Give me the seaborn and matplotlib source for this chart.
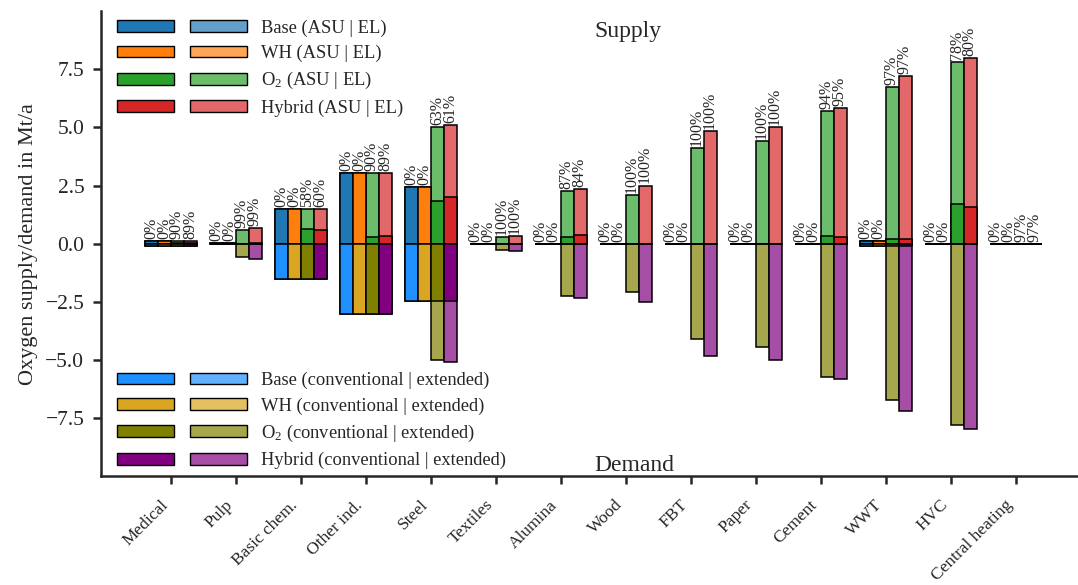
import numpy as np
import pandas as pd
import matplotlib
matplotlib.use("Agg")
import matplotlib.pyplot as plt
from matplotlib.patches import Patch
from matplotlib.legend_handler import HandlerTuple
import seaborn as sns

# ---- data -------------------------------------------------------------
sectors = ["Medical", "Pulp", "Basic chem.", "Other ind.", "Steel", "Textiles",
           "Alumina", "Wood", "FBT", "Paper", "Cement", "WWT", "HVC",
           "Central heating"]
scenarios = ["Base", "WH", "O2", "Hybrid"]

# conventional oxygen demand (Mt/a), identical in every scenario
demand_conventional = [0.10, 0.03, 1.50, 3.02, 2.45, 0.0, 0.0, 0.0, 0.0, 0.0,
                       0.0, 0.10, 0.0, 0.0]
# extended oxygen demand (Mt/a) in the O2 and Hybrid scenarios
demand_extended_o2 = [0.0, 0.55, 0.0, 0.0, 2.55, 0.28, 2.27, 2.10, 4.10, 4.43,
                      5.72, 6.62, 7.81, 0.0]
demand_extended_hybrid = [0.0, 0.63, 0.0, 0.0, 2.65, 0.33, 2.34, 2.50, 4.85,
                          5.02, 5.84, 7.09, 7.98, 0.0]

# share of the supply provided by electrolysis (%)
el_share_base = [0, 0, 0, 0, 0, 0, 0, 0, 0, 0, 0, 0, 0, 0]
el_share_wh = [0, 0, 0, 0, 0, 0, 0, 0, 0, 0, 0, 0, 0, 0]
el_share_o2 = [90, 99, 58, 90, 63, 100, 87, 100, 100, 100, 94, 97, 78, 97]
el_share_hybrid = [89, 99, 60, 89, 61, 100, 84, 100, 100, 100, 95, 97, 80, 97]

# ---- derived quantities --------------------------------------------------
conv = np.array(demand_conventional)
zeros = np.zeros_like(conv)
extended = [zeros, zeros, np.array(demand_extended_o2),
            np.array(demand_extended_hybrid)]
el_share = [np.array(s) / 100 for s in
            (el_share_base, el_share_wh, el_share_o2, el_share_hybrid)]

demand_total = [conv + e for e in extended]
supply_total = demand_total
supply_asu = [t * (1 - s) for t, s in zip(supply_total, el_share)]


def lighten(color, alpha=0.7):
    rgb = np.array(matplotlib.colors.to_rgb(color))
    return tuple(alpha * rgb + (1 - alpha))


asu_colors = ["#1f77b4", "#ff7f0e", "#2ca02c", "#d62728"]
el_colors = [lighten(c) for c in asu_colors]
conv_colors = ["#1e90ff", "#daa520", "#808000", "#800080"]
ext_colors = [lighten(c) for c in conv_colors]

# ---- style ---------------------------------------------------------------
sns.set_style("ticks")
plt.rcParams["font.family"] = ["Liberation Serif", "DejaVu Serif"]
plt.rcParams["mathtext.fontset"] = "custom"
plt.rcParams["mathtext.rm"] = "Liberation Serif"
plt.rcParams["mathtext.it"] = "Liberation Serif:italic"

fig, ax = plt.subplots(figsize=(10.78, 5.85), dpi=100)
fig.subplots_adjust(left=0.0937, right=0.999, bottom=0.186, top=0.981)


def draw_layer(values, colors):
    df = pd.DataFrame({
        "sector": np.tile(sectors, len(scenarios)),
        "scenario": np.repeat(scenarios, len(sectors)),
        "value": np.concatenate(values),
    })
    sns.barplot(data=df, x="sector", y="value", hue="scenario",
                order=sectors, hue_order=scenarios,
                palette=dict(zip(scenarios, colors)), saturation=1,
                errorbar=None, width=0.8, gap=0, edgecolor="black",
                linewidth=1.1, legend=False, ax=ax)


# supply: electrolysis on top of air separation
draw_layer(supply_total, el_colors)
draw_layer(supply_asu, asu_colors)
# demand: extended below conventional
draw_layer([-d for d in demand_total], ext_colors)
draw_layer([-conv for _ in demand_total], conv_colors)

# electrolysis share above every supply bar
offsets = [-0.3, -0.1, 0.1, 0.3]
for j in range(len(scenarios)):
    for i in range(len(sectors)):
        ax.annotate(f"{el_share[j][i] * 100:.0f}%",
                    xy=(i + offsets[j], supply_total[j][i]),
                    xytext=(-0.5, 1.5), textcoords="offset points",
                    rotation=90, ha="center", va="bottom", fontsize=11.5)

ax.set_xlim(-1.08, 13.94)
ax.set_ylim(-10, 10)
ax.set_yticks([-7.5, -5.0, -2.5, 0.0, 2.5, 5.0, 7.5])
ax.set_yticklabels(["\u22127.5", "\u22125.0", "\u22122.5", "0.0", "2.5",
                    "5.0", "7.5"])
ax.set_xticks(range(len(sectors)))
ax.set_xticklabels(sectors, rotation=45, ha="right")
ax.set_xlabel("")
ax.set_ylabel("Oxygen supply/demand in Mt/a", fontsize=16, labelpad=5)
ax.tick_params(axis="both", direction="out", length=6, width=1.8, pad=6)
ax.tick_params(axis="y", labelsize=15.5)
ax.tick_params(axis="x", labelsize=12.5, pad=9)
sns.despine(ax=ax)
for side in ("left", "bottom"):
    ax.spines[side].set_linewidth(1.8)

ax.text(6.52, 9.13, "Supply", ha="left", va="center", fontsize=17)
ax.text(6.52, -9.54, "Demand", ha="left", va="center", fontsize=17)

# legends
scen_names = ["Base", "WH", "O$_2$", "Hybrid"]
supply_handles = [(Patch(fc=a, ec="black", lw=1), Patch(fc=e, ec="black", lw=1))
                  for a, e in zip(asu_colors, el_colors)]
demand_handles = [(Patch(fc=a, ec="black", lw=1), Patch(fc=e, ec="black", lw=1))
                  for a, e in zip(conv_colors, ext_colors)]
legend_kw = dict(frameon=False, fontsize=13.3, handlelength=7.0,
                 handleheight=0.6, handletextpad=0.8, labelspacing=0.44,
                 borderaxespad=0.05,
                 handler_map={tuple: HandlerTuple(ndivide=None, pad=0.82)})
leg1 = ax.legend(supply_handles, [f"{n} (ASU | EL)" for n in scen_names],
                 loc="upper left", bbox_to_anchor=(0.0082, 1.0), **legend_kw)
ax.add_artist(leg1)
ax.legend(demand_handles,
          [f"{n} (conventional | extended)" for n in scen_names],
          loc="lower left", bbox_to_anchor=(0.0082, -0.003), **legend_kw)

fig.savefig("out.png", dpi=100)
